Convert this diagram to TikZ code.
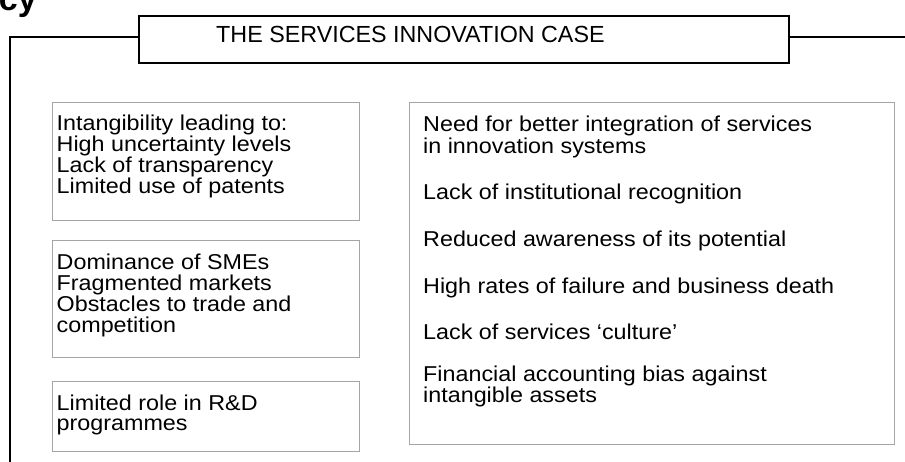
\documentclass[tikz,border=0pt]{standalone}
\usepackage{fontspec}
\setmainfont{Liberation Sans}
\newfontfamily\bodyfont{Liberation Sans}[FakeStretch=1.085]
\definecolor{boxgray}{RGB}{165,165,165}
\begin{document}
\begin{tikzpicture}[x=1pt,y=-1pt,
  txt/.style={anchor=base west, inner sep=0pt, font=\bodyfont\fontsize{21.5}{22}\selectfont},
  gbox/.style={draw=boxgray, line width=1.2pt, anchor=north west, inner sep=0pt},
  heavy/.style={line width=2pt, draw=black}]
\useasboundingbox (0,0) rectangle (905,462);
% cut heading
\node[anchor=base east, inner sep=0pt, font=\bfseries\fontsize{34}{36}\selectfont] (head) at (37,10.5) {cy};
% title box
\node[heavy, anchor=north west, inner sep=0pt, minimum width=650pt, minimum height=47pt] (title) at (138,15) {};
\node[anchor=base west, inner sep=0pt, font=\fontsize{23.3}{25}\selectfont] (ttl) at (216,42.3) {THE SERVICES INNOVATION CASE};
\coordinate (lc) at (10,37);
\coordinate (lb) at (10,462);
\coordinate (rc) at (905,37);
\draw[heavy] (title.west |- lc) -- (lc) -- (lb);
\draw[heavy] (title.east |- rc) -- (rc);
% left boxes
\node[gbox, minimum width=307pt, minimum height=118pt] (b1) at (52,102) {};
\node[gbox, minimum width=307pt, minimum height=117pt] (b2) at (52,240) {};
\node[gbox, minimum width=307pt, minimum height=70pt] (b3) at (52,381) {};
\node[gbox, minimum width=485pt, minimum height=342pt] (b4) at (409,102) {};
% box 1 text
\node[txt] (t11) at (56.5,130.7) {Intangibility leading to:};
\node[txt] (t12) at (56.5,151.7) {High uncertainty levels};
\node[txt] (t13) at (56.5,172.2) {Lack of transparency};
\node[txt] (t14) at (56.5,193.3) {Limited use of patents};
% box 2 text
\node[txt] (t21) at (56.5,269.3) {Dominance of SMEs};
\node[txt] (t22) at (56.5,290.5) {Fragmented markets};
\node[txt] (t23) at (56.5,311.7) {Obstacles to trade and};
\node[txt] (t24) at (56.5,332.7) {competition};
% box 3 text
\node[txt] (t31) at (56.5,410) {Limited role in R\&D};
\node[txt] (t32) at (56.5,430.5) {programmes};
% right box text
\node[txt] (r1) at (423,131.7) {Need for better integration of services};
\node[txt] (r2) at (423,153.3) {in innovation systems};
\node[txt] (r3) at (423,200) {Lack of institutional recognition};
\node[txt] (r4) at (423,246.7) {Reduced awareness of its potential};
\node[txt] (r5) at (423,293.5) {High rates of failure and business death};
\node[txt] (r6) at (423,339) {Lack of services ‘culture’};
\node[txt] (r7) at (423,381.7) {Financial accounting bias against};
\node[txt] (r8) at (423,402.2) {intangible assets};
\end{tikzpicture}
\end{document}
